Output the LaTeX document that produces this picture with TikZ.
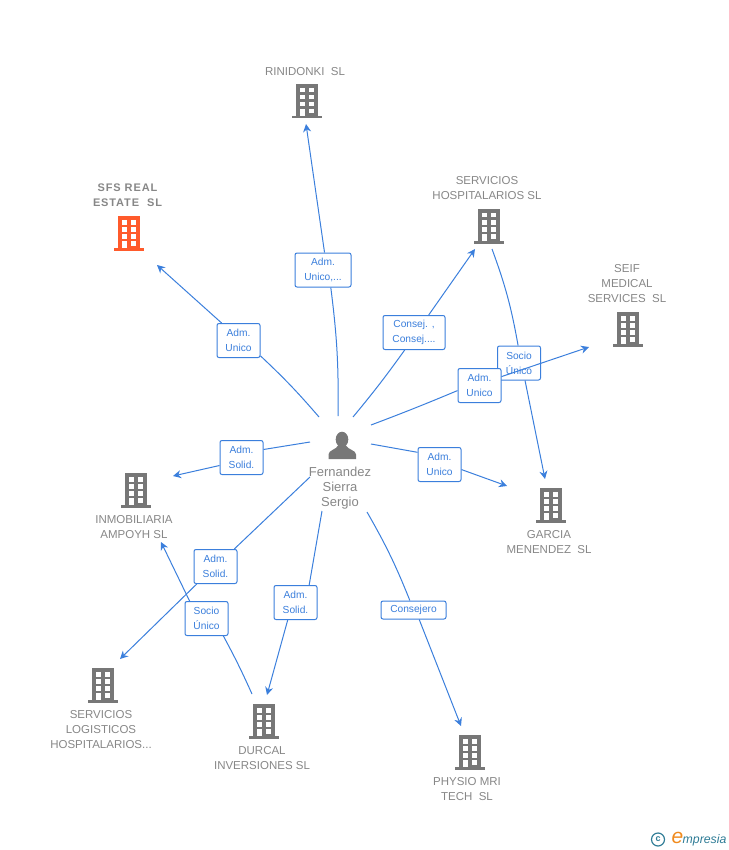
\documentclass[tikz,border=0pt]{standalone}
\usepackage{fontspec}
\setmainfont{Liberation Sans}
\usetikzlibrary{arrows.meta,positioning}
\definecolor{linkblue}{HTML}{3B7FDC}
\definecolor{bldgray}{HTML}{777777}
\definecolor{textgray}{HTML}{878787}
\definecolor{redorange}{HTML}{FF5A2B}
\definecolor{logoteal}{HTML}{2F7C96}
\definecolor{logoorange}{HTML}{F08A1D}
\tikzset{
	link/.style={linkblue, line width=1pt},
	tiplink/.style={link, -{Stealth[length=8pt,width=8pt]}},
	rolebox/.style={draw=linkblue, fill=white, rounded corners=2pt, line width=1pt, text=linkblue, minimum width=43pt, minimum height=34pt, inner sep=0pt, align=center, font=\fontsize{10.2}{15}\selectfont},
	company/.style={text=textgray, inner sep=0pt, align=center, font=\fontsize{11.5}{15}\selectfont},
	spot/.style={inner sep=0pt, minimum size=30pt},
	building/.pic={
		\fill (-11,-17) rectangle (11,15);
		\fill (-15,15) rectangle (15,17.5);
		\foreach \col in {-7,2}{
			\foreach \row in {-13,-6,1}{
				\fill[white] (\col,\row) rectangle ++(5,4.5);
			}
		}
		\fill[white] (-7,8) rectangle ++(5,7);
		\fill[white] (2,8) rectangle ++(5,4.5);
	}
}
\begin{document}
\begin{tikzpicture}[x=1pt,y=-1pt]
	\useasboundingbox (0,0) rectangle (728,850);

	%Buildings
	\foreach \bname/\bx/\by/\bcolor in {rinidonki/307/101/bldgray, sfs/129/233/redorange, hospitalarios/489/226/bldgray, seif/628/329/bldgray, garcia/551/505/bldgray, ampoyh/136/490/bldgray, logisticos/103/685/bldgray, durcal/264/721/bldgray, physio/470/752/bldgray}{
		\node[spot] (\bname) at (\bx,\by) {};
		\path (\bx,\by) pic[color=\bcolor] {building};
	}

	%Person
	\node[spot] (person) at (342,445) {};
	\fill[bldgray] (342,439.5) ellipse (6.3 and 7.8);
	\fill[bldgray] (328.5,459) -- (328.5,454.5) .. controls (328.5,450) and (336,450) .. (338.5,445) -- (345.5,445) .. controls (348,450) and (356,450) .. (356,454.5) -- (356,459) -- cycle;
	\node[company, font=\fontsize{13}{15}\selectfont] (personname) at (340,488) {Fernandez\\Sierra\\Sergio};

	%Free ends of the links
	\foreach \cname/\cx/\cy in {s1/338/416, s2/319/417, s3/353/417, s4/371/425, s5/492/249, s6/371/444, s7/310/442, s8/310/477, s9/322/511, s10/367/512, s11/252/694, t1/306/124, t2/157/265, t3/475/249, t4/589/347, t5/545/479, t6/507/486, t7/173/476, t8/120/659, t9/267/695, t10/461/726, t11/161/542}{
		\coordinate (\cname) at (\cx,\cy);
	}

	%Boxes
	\node[rolebox] (r5) at (519,363) {Socio\\Único};
	\node[rolebox, minimum width=56pt] (r1) at (323,270) {Adm.\\Unico,...};
	\node[rolebox] (r2) at (238.5,340.5) {Adm.\\Unico};
	\node[rolebox, minimum width=62pt] (r3) at (414,332.5) {Consej. ,\\Consej....};
	\node[rolebox] (r4) at (479.5,385.5) {Adm.\\Unico};
	\node[rolebox] (r6) at (439.5,464.5) {Adm.\\Unico};
	\node[rolebox] (r7) at (241.5,457.5) {Adm.\\Solid.};
	\node[rolebox] (r8) at (215.5,566.5) {Adm.\\Solid.};
	\node[rolebox] (r9) at (295.5,602.5) {Adm.\\Solid.};
	\node[rolebox, minimum width=65pt, minimum height=18pt] (r10) at (413.5,610) {Consejero};
	\node[rolebox] (r11) at (206.5,618.5) {Socio\\Único};

	%Links: free end to box, box to free end
	\foreach \start/\via/\inangle/\outangle/\bendangle/\target in {s1/r1/-66/85/-4/t1, s2/r2/-35/134/-3/t2, s3/r3/-118/50/-2/t3, s4/r4/-167/22/-1/t4, s5/r5/93/-71/5/t5, s6/r6/151/-13/0/t6, s7/r7/20/-160/0/t7, s8/r8/43/-137/0/t8, s9/r9/52/-114/0/t9, s10/r10/111/-59/4/t10, s11/r11/-46/134/-2/t11}{
		\draw[link] (\start) to[bend left=\bendangle] (\via.\inangle);
		\draw[tiplink] (\via.\outangle) -- (\target);
	}

	%Company names
	\node[company] (name1) at (305,71.7) {RINIDONKI\ \ SL};
	\node[company, font=\bfseries\addfontfeature{LetterSpace=8}\fontsize{11}{15}\selectfont] (name2) at (127.5,195) {SFS REAL\\ESTATE\ \ SL};
	\node[company] (name3) at (487,188.2) {SERVICIOS\\HOSPITALARIOS SL};
	\node[company] (name4) at (627,283.7) {SEIF\\MEDICAL\\SERVICES\ \ SL};
	\node[company] (name5) at (549,542.2) {GARCIA\\MENENDEZ\ \ SL};
	\node[company] (name6) at (134,527.2) {INMOBILIARIA\\AMPOYH SL};
	\node[company] (name7) at (101,729.7) {SERVICIOS\\LOGISTICOS\\HOSPITALARIOS...};
	\node[company] (name8) at (262,758.2) {DURCAL\\INVERSIONES SL};
	\node[company] (name9) at (467,789.2) {PHYSIO MRI\\TECH\ \ SL};

	%Logo
	\node[circle, draw=logoteal, line width=1.2pt, text=logoteal, inner sep=0pt, minimum size=13pt, font=\bfseries\fontsize{9}{9}\selectfont] (logomark) at (658,839.5) {c};
	\node[inner sep=0pt, text=logoorange, font=\itshape\fontsize{21}{21}\selectfont] (logoe) at (677.5,838) {e};
	\node[inner sep=0pt, anchor=west, text=logoteal, font=\itshape\fontsize{12.3}{12}\selectfont] (logotext) at (682.5,840) {mpresia};
\end{tikzpicture}
\end{document}
